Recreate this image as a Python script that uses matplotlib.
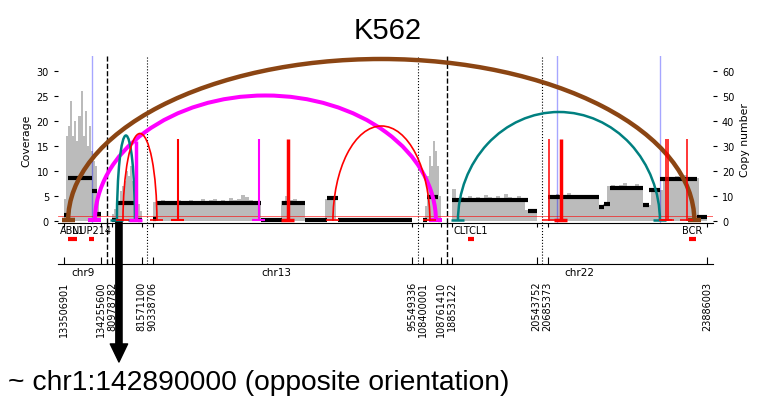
import numpy as np
import matplotlib.pyplot as plt
from matplotlib.patches import Arc
from matplotlib.transforms import blended_transform_factory

# genome segments shown on the x axis (hg19)
seg_chrom = ['chr9', 'chr13', 'chr13', 'chr13', 'chr22', 'chr22']
seg_start = [133506901, 80978782, 90338706, 108400001, 18853122, 20685373]
seg_end = [134255600, 81571100, 95549336, 108761410, 20543752, 23886003]

# read coverage, equal bins across each segment
cov_bins = [
    [4.5, 17, 19, 24, 17, 20, 16, 21, 26, 17, 22, 15, 19, 14, 12, 11, 4, 1.5],
    [1.5, 2.5, 3.5, 4, 6, 7, 8, 10, 9, 11, 8, 7, 5, 3.5, 2],
    [3.8, 4.0, 4.2, 3.9, 4.1, 4.0, 4.3, 3.8, 4.0, 4.2, 4.1, 3.9, 4.4, 4.0, 4.2,
     4.5, 4.1, 4.3, 4.0, 4.6, 4.2, 4.4, 5.2, 4.8, 4.3, 4.1, 4.0,
     0.2, 0.1, 0.2, 0.2, 0.1,
     4.0, 5.0, 4.2, 4.4, 4.1, 4.0,
     0.2, 0.1, 0.2, 0.1, 0.2,
     4.4, 4.5, 4.2,
     0.2, 0.1, 0.2, 0.1, 0.2, 0.1, 0.2, 0.1, 0.2, 0.1, 0.2, 0.1, 0.2, 0.1,
     0.2, 0.1, 0.2, 0.1, 0.3],
    [0.5, 3, 9, 13, 11, 16, 14, 11, 5],
    [6.5, 4.6, 4.8, 4.5, 5.0, 4.7, 4.9, 4.6, 5.3, 4.8, 4.7, 5.0, 4.6, 5.4, 4.8,
     4.7, 5.0, 4.6, 2.2, 2.1, 1.8],
    [5.2, 5.0, 5.4, 4.9, 5.1, 5.6, 5.0, 5.2, 4.9, 5.3, 5.1, 5.0, 4.8, 3.0, 3.5,
     7.0, 7.3, 6.8, 7.2, 7.6, 7.0, 7.1, 7.4, 6.9, 3.2, 3.3, 6.3, 6.4, 6.2,
     8.6, 8.9, 8.4, 9.0, 8.7, 9.2, 8.5, 8.8, 8.6, 0.6, 0.5],
]

# copy number segments
cn_chrom = ['chr9'] * 4 + ['chr13'] * 13 + ['chr22'] * 10
cn_start = [133506901, 133587000, 134069000, 134169000,
            80978782, 81075000, 81497000,
            90338706, 90403000, 92510000, 92932000, 93393000, 93834000, 94055000,
            108400001, 108472000, 108693000,
            18853122, 20370000, 20685373, 21717000, 21817000, 21938000,
            22600000, 22720000, 22941000, 23684000]
cn_end = [133587000, 134069000, 134169000, 134255600,
          81073000, 81497000, 81571100,
          90403000, 92510000, 92932000, 93393000, 93834000, 94055000, 95549336,
          108472000, 108693000, 108761410,
          20370000, 20543752, 21717000, 21817000, 21938000, 22600000,
          22720000, 22941000, 23684000, 23886003]
cn_value = [2.6, 17.4, 12.0, 2.8,
            0.6, 7.4, 0.6,
            0.8, 7.2, 0.6, 7.2, 0.6, 9.2, 0.6,
            0.6, 9.6, 0.6,
            8.6, 4.2, 9.6, 5.8, 6.8, 13.2, 6.4, 12.4, 16.8, 1.6]

# rearrangement arcs (both ends shown)
arc_chrom1 = ['chr9', 'chr9', 'chr13', 'chr13', 'chr13', 'chr22']
arc_pos1 = [133590000, 134128000, 81073000, 81194000, 93955000, 18966000]
arc_chrom2 = ['chr22', 'chr13', 'chr13', 'chr13', 'chr13', 'chr22']
arc_pos2 = [23632000, 108653000, 81434000, 90423000, 108532000, 22941000]
arc_height = [64.8, 50.2, 34.2, 35, 38, 43.6]
arc_color = ['#8b4513', 'magenta', 'teal', 'red', 'red', 'teal']
arc_lw = [3.2, 2.9, 1.8, 1.2, 1.2, 1.8]

# breakpoints with partner outside the view
bp_chrom = ['chr13', 'chr13', 'chr13', 'chr13', 'chr22', 'chr22', 'chr22', 'chr22', 'chr22']
bp_pos = [81454000, 90844000, 92470000, 93052000, 20713000, 20954000, 23062000, 23102000, 23483000]
bp_height = [32, 33, 33, 33, 33, 33, 33, 33, 33]
bp_color = ['magenta', 'red', 'magenta', 'red', 'red', 'red', 'red', 'red', 'red']
bp_lw = [2.5, 1.5, 1.5, 2.5, 1.1, 2.5, 1.1, 1.1, 1.1]

blue_chrom = ['chr9', 'chr22', 'chr22']
blue_pos = [134069000, 20874000, 22941000]

gene_name = ['ABL1', 'NUP214', 'CLTCL1', 'BCR']
gene_chrom = ['chr9', 'chr9', 'chr22', 'chr22']
gene_start = [133589268, 134000948, 19166986, 23522552]
gene_end = [133763062, 134110057, 19279239, 23660224]

arrow_chrom, arrow_pos = 'chr13', 81113000

GAP = 0.22
offsets = []
o = 0.0
for i in range(len(seg_start)):
    offsets.append(o)
    o += (seg_end[i] - seg_start[i]) / 1e6 + GAP
total = o - GAP


def gpos(chrom, coord):
    for i in range(len(seg_start)):
        if seg_chrom[i] == chrom and seg_start[i] <= coord <= seg_end[i]:
            return offsets[i] + (coord - seg_start[i]) / 1e6
    raise ValueError((chrom, coord))


W, H = 759, 414
fig = plt.figure(figsize=(W / 100, H / 100), dpi=100)
ax1 = fig.add_axes([58 / W, 1 - 224 / H, 655 / W, 167 / H])
ax_r = ax1.twinx()
ax_g = fig.add_axes([58 / W, 1 - 265 / H, 655 / W, 41 / H])

xlim = (-0.12, total + 0.12)
for a in (ax1, ax_r, ax_g):
    a.set_xlim(*xlim)
    for s in ('top', 'left', 'right'):
        a.spines[s].set_visible(False)
ax_r.spines['bottom'].set_visible(False)
ax1.set_ylim(-0.4, 33)
ax_r.set_ylim(-0.8, 66)
ax_g.set_ylim(0, 1)

# coverage
for i, vals in enumerate(cov_bins):
    x0 = offsets[i]
    x1 = x0 + (seg_end[i] - seg_start[i]) / 1e6
    edges = np.linspace(x0, x1, len(vals) + 1)
    ax1.stairs(vals, edges, fill=True, color='#bbbbbb', lw=0)

# segment boundaries
for i in range(1, len(seg_start)):
    xm = offsets[i] - GAP / 2
    ls = '--' if seg_chrom[i] != seg_chrom[i - 1] else ':'
    lw = 1.0 if ls == '--' else 0.8
    for a in (ax1, ax_g):
        a.axvline(xm, color='k', ls=ls, lw=lw)

for c, p in zip(blue_chrom, blue_pos):
    ax1.axvline(gpos(c, p), color='blue', alpha=0.35, lw=1)

# copy number
ax_r.axhline(2, color='red', lw=0.6, alpha=0.7)
for c, s, e, v in zip(cn_chrom, cn_start, cn_end, cn_value):
    ax_r.hlines(v, gpos(c, s), gpos(c, e), color='k', lw=3, capstyle='butt', zorder=3)

FOOT = 0.13
for c1, p1, c2, p2, h, col, lw in zip(arc_chrom1, arc_pos1, arc_chrom2, arc_pos2,
                                      arc_height, arc_color, arc_lw):
    xa, xb = gpos(c1, p1), gpos(c2, p2)
    ax_r.add_patch(Arc(((xa + xb) / 2, 0), xb - xa, 2 * h, theta1=0, theta2=180,
                       color=col, lw=lw, zorder=4))
    for x in (xa, xb):
        ax_r.hlines(0.5, x - FOOT, x + FOOT, color=col, lw=lw, zorder=4)

for c, p, h, col, lw in zip(bp_chrom, bp_pos, bp_height, bp_color, bp_lw):
    x = gpos(c, p)
    ax_r.vlines(x, 0, h, color=col, lw=lw, zorder=4)
    ax_r.hlines(0.5, x - FOOT, x + FOOT, color=col, lw=lw, zorder=4)

# ticks
bounds, blabels = [], []
for i in range(len(seg_start)):
    bounds += [offsets[i], offsets[i] + (seg_end[i] - seg_start[i]) / 1e6]
    blabels += [str(seg_start[i]), str(seg_end[i])]

ax1.set_yticks(range(0, 31, 5))
ax1.set_xticks(bounds)
ax1.set_xticklabels([])
ax1.tick_params(axis='x', length=3)
ax1.tick_params(axis='y', labelsize=7, length=3)
ax1.set_ylabel('Coverage', fontsize=7.8)
ax_r.set_yticks(range(0, 61, 10))
ax_r.tick_params(axis='y', labelsize=7, length=3)
ax_r.set_ylabel('Copy number', fontsize=7.8)

ax_g.set_yticks([])
ax_g.set_xticks(bounds)
ax_g.set_xticklabels(blabels)
ax_g.tick_params(axis='x', direction='in', length=5, pad=12, labelsize=7, labelrotation=90)
ax_g.patch.set_alpha(0)

tr = blended_transform_factory(ax_g.transData, ax_g.transAxes)
for ch in ['chr9', 'chr13', 'chr22']:
    idx = [i for i in range(len(seg_chrom)) if seg_chrom[i] == ch]
    xc = (offsets[idx[0]] + offsets[idx[-1]] + (seg_end[idx[-1]] - seg_start[idx[-1]]) / 1e6) / 2
    ax_g.text(xc, -0.19, ch, transform=tr, ha='center', va='center', fontsize=7.5)

for n, c, s, e in zip(gene_name, gene_chrom, gene_start, gene_end):
    xs, xe = gpos(c, s), gpos(c, e)
    ax_g.text((xs + xe) / 2, 0.83, n, ha='center', va='center', fontsize=7)
    ax_g.hlines(0.61, xs, xe, color='red', lw=3)

# arrow to the chr1 partner
xa = gpos(arrow_chrom, arrow_pos)
ax1.annotate('', xy=(xa, 1 - 363 / H), xycoords=('data', 'figure fraction'),
             xytext=(xa, 1 - 221 / H), textcoords=('data', 'figure fraction'),
             arrowprops=dict(arrowstyle='simple,head_width=1.25,head_length=1.3,tail_width=0.45',
                             mutation_scale=10, color='k', shrinkA=0, shrinkB=0),
             annotation_clip=False)

fig.text(388 / W, 1 - 31 / H, 'K562', fontsize=21, family='Liberation Sans',
         ha='center', va='center')
fig.text(8 / W, 1 - 383 / H, '~ chr1:142890000 (opposite orientation)', fontsize=20.3,
         family='Liberation Sans', ha='left', va='center')

fig.savefig('out.png', dpi=100)
